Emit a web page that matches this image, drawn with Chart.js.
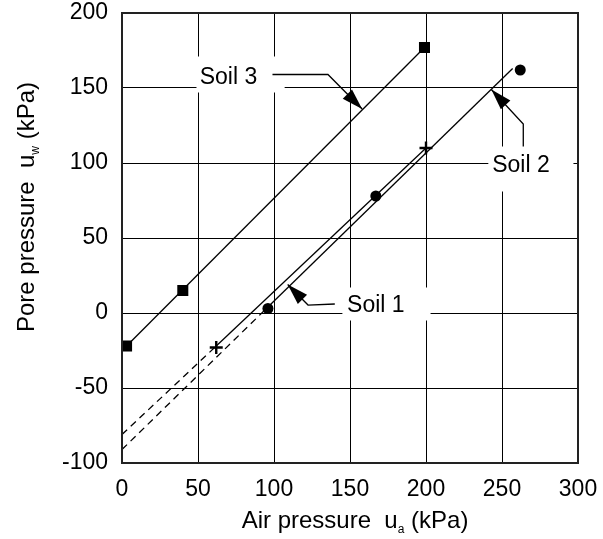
<!DOCTYPE html>
<html>
<head>
<meta charset="utf-8">
<title>Pore pressure vs air pressure</title>
<script src="https://cdn.jsdelivr.net/npm/chart.js@4.4.1/dist/chart.umd.min.js"></script>
<style>
  html, body { margin: 0; padding: 0; background: #fff; }
  #wrap { width: 603px; height: 539px; }
</style>
</head>
<body>
<div id="wrap"><canvas id="soilChart" width="603" height="539"></canvas></div>
<script>
const soil1X = [62, 200];
const soil1Y = [-23, 110];
const soil2X = [96, 167, 262];
const soil2Y = [3, 78, 162];
const soil3X = [3, 40, 199];
const soil3Y = [-22, 15, 177];

// fitted lines (solid) and their dashed extension back to ua = 0
const soil3FitX = [3, 199];
const soil3FitY = [-22, 177];
const soil1FitX = [62, 200];
const soil1FitY = [-22, 110];
const soil1ExtX = [0, 62];
const soil1ExtY = [-81, -22];
const soil2FitX = [96, 257];
const soil2FitY = [4, 163];
const soil2ExtX = [0, 96];
const soil2ExtY = [-91, 4];

// axis ticks
const xTicks = [0, 50, 100, 150, 200, 250, 300];
const yTicks = [-100, -50, 0, 50, 100, 150, 200];

const FONT = "'Liberation Sans', Arial, Helvetica, sans-serif";

const pts = (xs, ys) => xs.map((x, i) => ({ x: x, y: ys[i] }));

// callout labels, placed in data units (box = white mask behind the text)
const callouts = [
    { text: "Soil 3", at: [70, 157], box: [49, 171, 107, 147], path: [[99, 159], [135.5, 159], [158, 136]] },
    { text: "Soil 2", at: [262.5, 98], box: [241, 111, 297, 81], path: [[264, 111], [264, 126], [243, 149]] },
    { text: "Soil 1", at: [167, 5], box: [145, 17, 203, -5], path: [[140, 6], [122.4, 5.3], [109, 19]] },
];

// draws text made of normal + subscript parts, centred on x, baseline at y
function drawSubText(ctx, parts, x, y, size) {
    const subSize = Math.round(size * 0.52);
    let total = 0;
    parts.forEach(p => {
        ctx.font = (p.sub ? subSize : size) + "px " + FONT;
        p.w = ctx.measureText(p.t).width;
        total += p.w;
    });
    let cx = x - total / 2;
    ctx.textAlign = "left";
    ctx.textBaseline = "alphabetic";
    parts.forEach(p => {
        ctx.font = (p.sub ? subSize : size) + "px " + FONT;
        ctx.fillText(p.t, cx, p.sub ? y + 5 : y);
        cx += p.w;
    });
}

function arrowHead(ctx, from, tip, len, half) {
    const a = Math.atan2(tip.y - from.y, tip.x - from.x);
    const bx = tip.x - len * Math.cos(a), by = tip.y - len * Math.sin(a);
    ctx.beginPath();
    ctx.moveTo(tip.x, tip.y);
    ctx.lineTo(bx + half * Math.sin(a), by - half * Math.cos(a));
    ctx.lineTo(bx - half * Math.sin(a), by + half * Math.cos(a));
    ctx.closePath();
    ctx.fill();
}

const calloutPlugin = {
    id: "callouts",
    beforeDatasetsDraw(chart) {
        // white masks over the grid where the labels sit
        const { ctx, scales: { x, y } } = chart;
        ctx.save();
        ctx.fillStyle = "#fff";
        callouts.forEach(c => {
            const x0 = x.getPixelForValue(c.box[0]), y0 = y.getPixelForValue(c.box[1]);
            const x1 = x.getPixelForValue(c.box[2]), y1 = y.getPixelForValue(c.box[3]);
            ctx.fillRect(x0, y0, x1 - x0, y1 - y0);
        });
        ctx.restore();
    },
    afterDatasetsDraw(chart) {
        const { ctx, scales: { x, y } } = chart;
        ctx.save();
        ctx.fillStyle = "#000";
        ctx.strokeStyle = "#000";
        ctx.lineWidth = 1.3;
        callouts.forEach(c => {
            const p = c.path.map(v => ({ x: x.getPixelForValue(v[0]), y: y.getPixelForValue(v[1]) }));
            ctx.beginPath();
            ctx.moveTo(p[0].x, p[0].y);
            for (let i = 1; i < p.length; i++) ctx.lineTo(p[i].x, p[i].y);
            ctx.stroke();
            arrowHead(ctx, p[p.length - 2], p[p.length - 1], 21, 6.5);

            ctx.font = "23px " + FONT;
            ctx.textAlign = "center";
            ctx.textBaseline = "middle";
            ctx.fillText(c.text, x.getPixelForValue(c.at[0]), y.getPixelForValue(c.at[1]));
        });
        ctx.restore();
    },
    afterDraw(chart) {
        const { ctx, chartArea: a } = chart;
        ctx.save();
        // plot frame
        ctx.strokeStyle = "#222";
        ctx.lineWidth = 2;
        ctx.strokeRect(a.left, a.top, a.right - a.left, a.bottom - a.top);

        // axis titles (with subscripts)
        ctx.fillStyle = "#000";
        drawSubText(ctx, [{ t: "Air pressure  u" }, { t: "a", sub: true }, { t: " (kPa)" }],
            (a.left + a.right) / 2 + 5, 528, 24);
        ctx.translate(34, 207);
        ctx.rotate(-Math.PI / 2);
        drawSubText(ctx, [{ t: "Pore pressure  u" }, { t: "w", sub: true }, { t: " (kPa)" }], 0, 0, 24);
        ctx.restore();
    }
};

const lineStyle = { showLine: true, borderColor: "#000", borderWidth: 1.3, pointRadius: 0, fill: false };

new Chart(document.getElementById("soilChart"), {
    type: "scatter",
    data: {
        datasets: [
            { ...lineStyle, data: pts(soil3FitX, soil3FitY) },
            { ...lineStyle, data: pts(soil1FitX, soil1FitY) },
            { ...lineStyle, data: pts(soil1ExtX, soil1ExtY), borderDash: [7, 5] },
            { ...lineStyle, data: pts(soil2FitX, soil2FitY) },
            { ...lineStyle, data: pts(soil2ExtX, soil2ExtY), borderDash: [7, 5] },
            { label: "Soil 1", data: pts(soil1X, soil1Y), pointStyle: "cross", pointRadius: 6.5,
              borderColor: "#000", borderWidth: 2.4 },
            { label: "Soil 2", data: pts(soil2X, soil2Y), pointStyle: "circle", pointRadius: 5.5,
              borderColor: "#000", backgroundColor: "#000", borderWidth: 0 },
            { label: "Soil 3", data: pts(soil3X, soil3Y), pointStyle: "rect", pointRadius: 7.8,
              borderColor: "#000", backgroundColor: "#000", borderWidth: 0 },
        ]
    },
    options: {
        responsive: false,
        animation: false,
        layout: { padding: { top: 13, right: 25, bottom: 0, left: 0 } },
        plugins: { legend: { display: false }, tooltip: { enabled: false } },
        scales: {
            x: {
                type: "linear", min: 0, max: 300,
                afterBuildTicks: s => { s.ticks = xTicks.map(v => ({ value: v })); },
                afterFit: s => { s.height = 76; s.paddingLeft = 0; s.paddingRight = 0; },
                grid: { color: "#000", lineWidth: 1, drawTicks: false },
                border: { display: false },
                ticks: { color: "#000", padding: 13, font: { family: FONT, size: 23 } }
            },
            y: {
                type: "linear", min: -100, max: 200,
                afterBuildTicks: s => { s.ticks = yTicks.map(v => ({ value: v })); },
                afterFit: s => { s.width = 122; s.paddingTop = 0; s.paddingBottom = 0; },
                grid: { color: "#000", lineWidth: 1, drawTicks: false },
                border: { display: false },
                ticks: { color: "#000", padding: 14, font: { family: FONT, size: 23 } }
            }
        }
    },
    plugins: [calloutPlugin]
});
</script>
</body>
</html>
